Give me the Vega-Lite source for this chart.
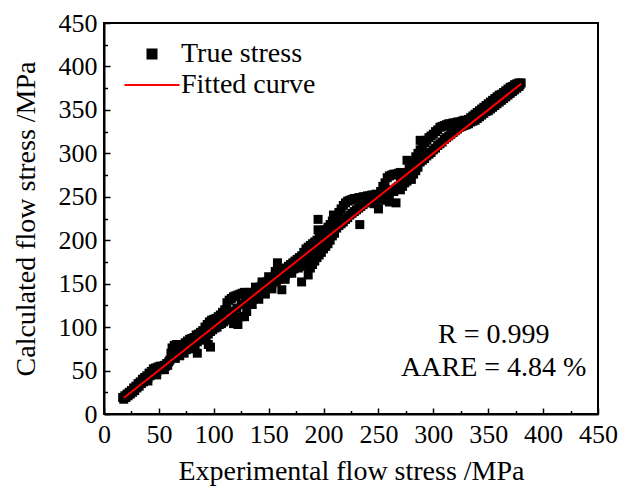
{
  "$schema": "https://vega.github.io/schema/vega-lite/v6.json",
  "width": 494,
  "height": 391,
  "autosize": {"type": "none"},
  "padding": {"left": 104, "top": 23, "right": 20, "bottom": 72},
  "config": {
    "font": "Liberation Serif",
    "view": {"stroke": "black", "strokeWidth": 2},
    "axis": {
      "grid": false,
      "ticks": true,
      "zindex": 1,
      "domainColor": "black",
      "domainWidth": 2,
      "tickColor": "black",
      "tickWidth": 1.5,
      "labelFont": "Liberation Serif",
      "labelFontSize": 26,
      "labelColor": "black",
      "labelFlush": false,
      "labelOverlap": false,
      "titleFont": "Liberation Serif",
      "titleFontSize": 28,
      "titleFontWeight": "normal",
      "titleColor": "black"
    }
  },
  "datasets": {
    "pts": [
      {"e":17,"c":19},{"e":18,"c":17},{"e":19,"c":21},{"e":20,"c":19},{"e":21,"c":23},{"e":22,"c":21},{"e":23,"c":25},{"e":24,"c":23},{"e":25,"c":27},{"e":26,"c":25},{"e":27,"c":30},{"e":28,"c":27},{"e":29,"c":32},{"e":30,"c":30},{"e":31,"c":35},{"e":32,"c":32},{"e":33,"c":37},{"e":34,"c":35},{"e":35,"c":40},{"e":36,"c":37},{"e":37,"c":42},{"e":38,"c":40},{"e":39,"c":44},{"e":40,"c":42},{"e":40,"c":38},{"e":41,"c":47},{"e":42,"c":44},{"e":43,"c":49},{"e":44,"c":46},{"e":45,"c":52},{"e":46,"c":48},{"e":47,"c":53},{"e":48,"c":49},{"e":48,"c":45},{"e":49,"c":54},{"e":50,"c":51},{"e":51,"c":55},{"e":52,"c":52},{"e":53,"c":55},{"e":54,"c":53},{"e":55,"c":56},{"e":55,"c":51},{"e":56,"c":55},{"e":57,"c":58},{"e":58,"c":56},{"e":59,"c":60},
      {"e":60,"c":62},{"e":61,"c":70},{"e":62,"c":76},{"e":63,"c":66},{"e":64,"c":79},{"e":65,"c":64},{"e":66,"c":80},{"e":67,"c":70},{"e":68,"c":80},{"e":69,"c":67},{"e":70,"c":79},{"e":71,"c":72},{"e":72,"c":80},{"e":73,"c":70},{"e":74,"c":82},{"e":75,"c":74},{"e":76,"c":84},{"e":77,"c":75},{"e":78,"c":86},{"e":79,"c":78},{"e":80,"c":87},{"e":81,"c":79},{"e":82,"c":88},{"e":83,"c":80},{"e":84,"c":91},{"e":85,"c":70},{"e":85,"c":83},{"e":86,"c":92},{"e":87,"c":85},{"e":88,"c":94},{"e":89,"c":86},{"e":90,"c":96},
      {"e":91,"c":88},{"e":92,"c":100},{"e":93,"c":90},{"e":94,"c":103},{"e":95,"c":80},{"e":95,"c":92},{"e":96,"c":106},{"e":97,"c":77},{"e":97,"c":95},{"e":98,"c":108},{"e":99,"c":97},{"e":100,"c":109},{"e":101,"c":99},{"e":102,"c":110},{"e":103,"c":100},{"e":104,"c":112},{"e":105,"c":103},{"e":106,"c":114},{"e":107,"c":104},{"e":108,"c":117},{"e":109,"c":106},{"e":110,"c":120},
      {"e":111,"c":112},{"e":112,"c":128},{"e":113,"c":116},{"e":114,"c":131},{"e":115,"c":108},{"e":116,"c":133},{"e":117,"c":118},{"e":118,"c":135},{"e":118,"c":104},{"e":120,"c":136},{"e":120,"c":110},{"e":121,"c":122},{"e":122,"c":137},{"e":122,"c":103},{"e":124,"c":138},{"e":125,"c":112},{"e":125,"c":126},{"e":126,"c":139},{"e":128,"c":140},{"e":128,"c":112},{"e":129,"c":130},{"e":130,"c":118},
      {"e":131,"c":128},{"e":132,"c":134},{"e":132,"c":140},{"e":133,"c":130},{"e":134,"c":137},{"e":135,"c":132},{"e":135,"c":126},{"e":136,"c":140},{"e":137,"c":134},{"e":138,"c":143},{"e":138,"c":146},{"e":139,"c":136},{"e":140,"c":145},{"e":141,"c":138},{"e":141,"c":132},{"e":142,"c":146},{"e":143,"c":140},{"e":144,"c":148},{"e":144,"c":152},{"e":145,"c":142},{"e":146,"c":150},{"e":147,"c":144},{"e":147,"c":138},{"e":148,"c":152},{"e":149,"c":146},{"e":150,"c":153},{"e":150,"c":158},{"e":151,"c":148},{"e":152,"c":155},{"e":153,"c":150},{"e":153,"c":144},{"e":154,"c":157},{"e":155,"c":152},{"e":156,"c":159},{"e":156,"c":164},{"e":157,"c":153},{"e":158,"c":174},{"e":158,"c":160},{"e":159,"c":155},{"e":160,"c":162},{"e":161,"c":156},{"e":162,"c":143},{"e":162,"c":164},{"e":163,"c":158},{"e":164,"c":166},{"e":165,"c":160},{"e":165,"c":155},{"e":166,"c":168},{"e":167,"c":162},{"e":168,"c":170},{"e":169,"c":164},{"e":170,"c":172},{"e":171,"c":166},{"e":171,"c":162},{"e":172,"c":174},{"e":173,"c":167},{"e":174,"c":176},{"e":175,"c":169},{"e":176,"c":178},{"e":177,"c":171},{"e":177,"c":168},{"e":178,"c":180},{"e":179,"c":172},{"e":180,"c":152},{"e":180,"c":182},
      {"e":181,"c":174},{"e":182,"c":186},{"e":183,"c":170},{"e":184,"c":190},{"e":185,"c":176},{"e":186,"c":160},{"e":186,"c":192},{"e":187,"c":180},{"e":188,"c":168},{"e":188,"c":194},{"e":189,"c":182},{"e":190,"c":172},{"e":190,"c":196},{"e":191,"c":185},{"e":192,"c":176},{"e":192,"c":198},{"e":193,"c":188},{"e":194,"c":180},{"e":194,"c":200},{"e":195,"c":224},{"e":195,"c":212},{"e":195,"c":192},{"e":196,"c":183},{"e":196,"c":204},{"e":197,"c":194},{"e":198,"c":186},{"e":198,"c":206},{"e":199,"c":197},{"e":200,"c":190},{"e":200,"c":208},{"e":201,"c":200},{"e":202,"c":193},{"e":202,"c":212},{"e":203,"c":203},{"e":204,"c":196},{"e":204,"c":215},{"e":205,"c":206},{"e":206,"c":200},{"e":206,"c":218},{"e":207,"c":210},{"e":208,"c":205},{"e":208,"c":222},{"e":209,"c":229},{"e":209,"c":214},{"e":210,"c":208},{"e":210,"c":225},
      {"e":212,"c":214},{"e":212,"c":226},{"e":214,"c":217},{"e":214,"c":232},{"e":216,"c":219},{"e":216,"c":236},{"e":218,"c":221},{"e":218,"c":240},{"e":220,"c":224},{"e":220,"c":243},{"e":222,"c":226},{"e":222,"c":245},{"e":224,"c":229},{"e":224,"c":246},{"e":226,"c":231},{"e":226,"c":247},{"e":228,"c":233},{"e":228,"c":248},{"e":230,"c":235},{"e":230,"c":248},{"e":232,"c":237},{"e":232,"c":249},{"e":233,"c":218},{"e":234,"c":239},{"e":234,"c":249},{"e":236,"c":241},{"e":236,"c":250},{"e":238,"c":243},{"e":238,"c":250},{"e":240,"c":245},{"e":240,"c":251},{"e":242,"c":246},{"e":242,"c":251},{"e":244,"c":247},{"e":244,"c":252},{"e":246,"c":242},{"e":246,"c":252},{"e":248,"c":244},{"e":248,"c":253},{"e":250,"c":236},{"e":250,"c":250},{"e":252,"c":248},{"e":252,"c":256},{"e":254,"c":252},{"e":254,"c":262},
      {"e":256,"c":246},{"e":256,"c":266},{"e":258,"c":250},{"e":258,"c":272},{"e":260,"c":244},{"e":260,"c":254},{"e":260,"c":274},{"e":262,"c":258},{"e":262,"c":275},{"e":264,"c":256},{"e":264,"c":276},{"e":266,"c":243},{"e":266,"c":260},{"e":266,"c":276},{"e":268,"c":262},{"e":268,"c":277},{"e":270,"c":258},{"e":270,"c":266},{"e":270,"c":278},{"e":272,"c":262},{"e":272,"c":270},{"e":274,"c":266},{"e":274,"c":275},{"e":276,"c":292},{"e":276,"c":268},{"e":276,"c":278},{"e":278,"c":272},{"e":278,"c":282},{"e":280,"c":270},{"e":280,"c":285},{"e":282,"c":276},{"e":282,"c":290},{"e":284,"c":280},{"e":284,"c":296},
      {"e":286,"c":284},{"e":286,"c":300},{"e":288,"c":315},{"e":288,"c":290},{"e":288,"c":304},{"e":290,"c":292},{"e":290,"c":308},{"e":292,"c":294},{"e":292,"c":312},{"e":294,"c":297},{"e":294,"c":315},{"e":296,"c":299},{"e":296,"c":318},{"e":298,"c":301},{"e":298,"c":320},{"e":300,"c":304},{"e":300,"c":322},{"e":302,"c":306},{"e":302,"c":325},{"e":304,"c":309},{"e":304,"c":327},{"e":306,"c":311},{"e":306,"c":330},{"e":308,"c":313},{"e":308,"c":331},{"e":310,"c":316},{"e":310,"c":332},
      {"e":312,"c":318},{"e":312,"c":333},{"e":314,"c":320},{"e":314,"c":334},{"e":316,"c":322},{"e":316,"c":334},{"e":318,"c":324},{"e":318,"c":335},{"e":320,"c":326},{"e":320,"c":335},{"e":322,"c":328},{"e":322,"c":336},{"e":324,"c":330},{"e":324,"c":336},{"e":326,"c":331},{"e":326,"c":337},{"e":328,"c":332},{"e":328,"c":338},{"e":330,"c":333},{"e":330,"c":338},{"e":332,"c":334},{"e":332,"c":339},{"e":334,"c":336},{"e":334,"c":341},{"e":336,"c":337},{"e":336,"c":343},
      {"e":338,"c":338},{"e":338,"c":345},{"e":340,"c":340},{"e":340,"c":347},{"e":342,"c":342},{"e":342,"c":349},{"e":344,"c":344},{"e":344,"c":351},{"e":346,"c":346},{"e":346,"c":353},{"e":348,"c":348},{"e":348,"c":355},{"e":350,"c":349},{"e":350,"c":357},{"e":352,"c":351},{"e":352,"c":359},{"e":354,"c":353},{"e":354,"c":361},{"e":356,"c":355},{"e":356,"c":363},{"e":358,"c":357},{"e":358,"c":365},{"e":360,"c":359},{"e":360,"c":367},{"e":362,"c":361},{"e":362,"c":368},{"e":364,"c":363},{"e":364,"c":370},{"e":366,"c":365},{"e":366,"c":372},{"e":368,"c":367},{"e":368,"c":374},{"e":370,"c":369},{"e":370,"c":376},{"e":372,"c":371},{"e":372,"c":377},{"e":374,"c":373},{"e":374,"c":379},{"e":376,"c":375},{"e":376,"c":380},{"e":378,"c":377},{"e":378,"c":381},{"e":379,"c":379},{"e":380,"c":381}
    ],
    "fit": [
      {"e": 18, "c": 18.5},
      {"e": 380, "c": 380}
    ],
    "notes": [
      {"label": "R = 0.999", "e": 355, "c": 82},
      {"label": "AARE = 4.84 %", "e": 355, "c": 44}
    ]
  },
  "encoding": {
    "x": {
      "field": "e",
      "type": "quantitative",
      "scale": {"domain": [0, 450], "nice": false, "zero": false},
      "axis": {
        "title": "Experimental flow stress /MPa",
        "values": [0,25,50,75,100,125,150,175,200,225,250,275,300,325,350,375,400,425,450],
        "labelExpr": "datum.value % 50 === 0 ? datum.label : ''",
        "tickSize": {"expr": "datum.value % 50 === 0 ? -6 : -3.5"},
        "labelPadding": 13,
        "titlePadding": 8
      }
    },
    "y": {
      "field": "c",
      "type": "quantitative",
      "scale": {"domain": [0, 450], "nice": false, "zero": false},
      "axis": {
        "title": "Calculated flow stress /MPa",
        "values": [0,25,50,75,100,125,150,175,200,225,250,275,300,325,350,375,400,425,450],
        "labelExpr": "datum.value % 50 === 0 ? datum.label : ''",
        "tickSize": {"expr": "datum.value % 50 === 0 ? -6 : -3.5"},
        "labelPadding": 13,
        "titlePadding": 18
      }
    }
  },
  "layer": [
    {
      "data": {"name": "pts"},
      "mark": {"type": "point", "shape": "square", "filled": true, "size": 81, "opacity": 1},
      "encoding": {
        "color": {
          "datum": "True stress",
          "type": "nominal",
          "scale": {"domain": ["True stress", "Fitted curve"], "range": ["black", "red"]},
          "legend": {
            "orient": "none",
            "legendX": 34,
            "legendY": 17,
            "title": null,
            "labelFont": "Liberation Serif",
            "labelFontSize": 28,
            "labelColor": "black",
            "symbolSize": 81,
            "labelOffset": 15,
            "rowPadding": 3,
            "encoding": {
              "symbols": {
                "shape": {"value": {"expr": "datum.value === 'Fitted curve' ? 'stroke' : 'square'"}},
                "size": {"value": {"expr": "datum.value === 'Fitted curve' ? 3025 : 81"}},
                "fill": {"value": {"expr": "datum.value === 'Fitted curve' ? 'transparent' : 'black'"}},
                "stroke": {"value": {"expr": "datum.value === 'Fitted curve' ? 'red' : 'transparent'"}},
                "strokeWidth": {"value": 2},
                "opacity": {"value": 1}
              }
            }
          }
        }
      }
    },
    {
      "data": {"name": "fit"},
      "mark": {"type": "line", "color": "red", "strokeWidth": 2},
      "encoding": {
        "color": {"datum": "Fitted curve", "type": "nominal"}
      }
    },
    {
      "data": {"name": "notes"},
      "mark": {"type": "text", "align": "center", "baseline": "alphabetic", "fontSize": 28, "font": "Liberation Serif", "color": "black"},
      "encoding": {
        "text": {"field": "label"}
      }
    }
  ]
}
